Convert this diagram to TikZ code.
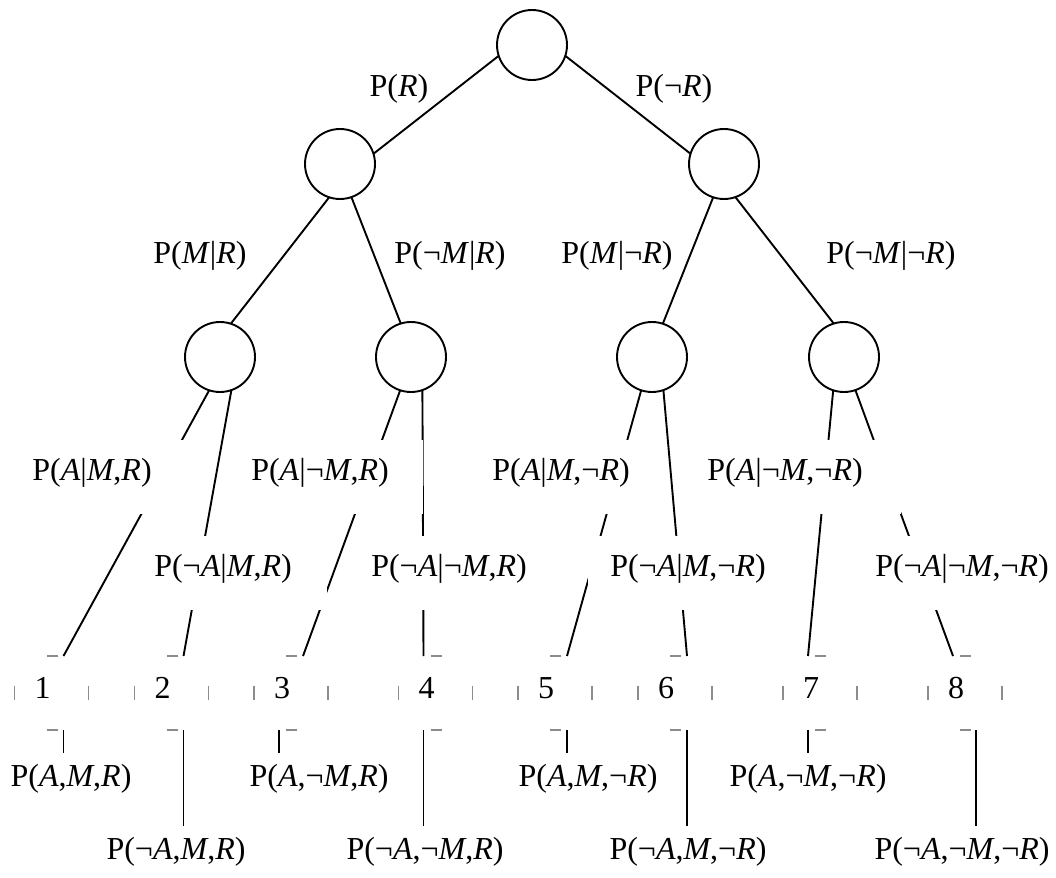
\documentclass[tikz,border=0pt]{standalone}
\usepackage{fontspec}
\setmainfont{Liberation Serif}
\begin{document}
\begin{tikzpicture}[x=1pt,y=-1pt,
  every node/.style={font=\fontsize{32}{38}\selectfont},
  chance/.style={circle,draw,line width=1.9pt,minimum size=70pt,inner sep=0pt,outer sep=0pt},
  leafbox/.style={rectangle,minimum width=74pt,minimum height=74pt,inner sep=0pt,outer sep=0pt,text height=42pt,text depth=32pt},
  branch/.style={line width=1.9pt},
  frag/.style={line width=1.2pt,black!45},
  edgelab/.style={inner sep=0pt},
  condlab/.style={fill=white,inner xsep=34pt,inner ysep=0pt,outer sep=0pt,text height=40pt,text depth=34pt},
  jointlab/.style={anchor=north,inner sep=0pt,outer sep=0pt,text height=33pt,text depth=10pt}]
\useasboundingbox (0,0) rectangle (1056,877);
% chance nodes
\node[chance] (root) at (532,45) {};
\node[chance] (L) at (340,164) {};
\node[chance] (Rt) at (724,164) {};
\node[chance] (c1) at (220,357) {};
\node[chance] (c2) at (411,357) {};
\node[chance] (c3) at (652,357) {};
\node[chance] (c4) at (844,357) {};
% leaves
\node[leafbox] (l1) at (51.5,693) {\makebox[0pt]{1\kern18pt}};
\node[leafbox] (l2) at (171.5,693) {\makebox[0pt]{2\kern18pt}};
\node[leafbox] (l3) at (291,693) {\makebox[0pt]{3\kern18pt}};
\node[leafbox] (l4) at (435.5,693) {\makebox[0pt]{4\kern18pt}};
\node[leafbox] (l5) at (555,693) {\makebox[0pt]{5\kern18pt}};
\node[leafbox] (l6) at (675,693) {\makebox[0pt]{6\kern18pt}};
\node[leafbox] (l7) at (820,693) {\makebox[0pt]{7\kern18pt}};
\node[leafbox] (l8) at (965,693) {\makebox[0pt]{8\kern18pt}};
\foreach \n in {l1,l2,l3,l4,l5,l6,l7,l8}{
  \draw[frag] ([xshift=-5pt]\n.north) -- ([xshift=6pt]\n.north);
  \draw[frag] ([xshift=-5pt]\n.south) -- ([xshift=6pt]\n.south);
  \draw[frag] ([yshift=7pt]\n.west) -- ([yshift=-7pt]\n.west);
  \draw[frag] ([yshift=7pt]\n.east) -- ([yshift=-7pt]\n.east);
}
% level 1
\draw[branch] (root.198.4) -- (L.17);
\draw[branch] (root.-18.4) -- (Rt.163);
\node[edgelab] (pR) at (399,89) {P(\textit{R})};
\node[edgelab] (pnR) at (674,89) {P(¬\textit{R})};
% level 2
\draw[branch] (L.-108.4) -- (c1.72.5);
\draw[branch] (L.-71.6) -- (c2.107.5);
\draw[branch] (Rt.-108.4) -- (c3.72.5);
\draw[branch] (Rt.-71.6) -- (c4.107.5);
\node[edgelab] (m1) at (200,256) {P(\textit{M}|\textit{R})};
\node[edgelab] (m2) at (450,256) {P(¬\textit{M}|\textit{R})};
\node[edgelab] (m3) at (617,256) {P(\textit{M}|¬\textit{R})};
\node[edgelab] (m4) at (891,256) {P(¬\textit{M}|¬\textit{R})};
% level 3, left half
\draw[branch] (c2.-71.6) -- ([xshift=-12pt]l4.north);
\node[condlab] (a4) at (449,573) {P(¬\textit{A}|¬\textit{M},\textit{R})};
\draw[branch] (c2.-108.4) -- ([xshift=12pt]l3.north);
\node[condlab] (a3) at (320,477) {P(\textit{A}|¬\textit{M},\textit{R})};
\draw[branch] (c1.-71.6) -- ([xshift=12pt]l2.north);
\node[condlab,inner xsep=35pt] (a2) at (223,573) {P(¬\textit{A}|\textit{M},\textit{R})};
\draw[branch] (c1.-108.4) -- ([xshift=12pt]l1.north);
\node[condlab] (a1) at (92,477) {P(\textit{A}|\textit{M},\textit{R})};
% level 3, right half
\draw[branch] (c4.-108.4) -- ([xshift=-12pt]l7.north);
\draw[branch] (c4.-71.6) -- ([xshift=-12pt]l8.north);
\node[condlab,inner xsep=38pt] (a7) at (785,477) {P(\textit{A}|¬\textit{M},¬\textit{R})};
\node[condlab] (a8) at (962,573) {P(¬\textit{A}|¬\textit{M},¬\textit{R})};
\draw[branch] (c3.-71.6) -- ([xshift=12pt]l6.north);
\draw[branch] (c3.-108.4) -- ([xshift=12pt]l5.north);
\node[condlab,inner xsep=22pt] (a6) at (688,573) {P(¬\textit{A}|\textit{M},¬\textit{R})};
\node[condlab] (a5) at (561,477) {P(\textit{A}|\textit{M},¬\textit{R})};
% joint probabilities
\node[jointlab] (b1) at (71,753) {P(\textit{A},\textit{M},\textit{R})};
\node[jointlab] (b2) at (176,826) {P(¬\textit{A},\textit{M},\textit{R})};
\node[jointlab] (b3) at (319,753) {P(\textit{A},¬\textit{M},\textit{R})};
\node[jointlab] (b4) at (425,826) {P(¬\textit{A},¬\textit{M},\textit{R})};
\node[jointlab] (b5) at (588,753) {P(\textit{A},\textit{M},¬\textit{R})};
\node[jointlab] (b6) at (688,826) {P(¬\textit{A},\textit{M},¬\textit{R})};
\node[jointlab] (b7) at (808,753) {P(\textit{A},¬\textit{M},¬\textit{R})};
\node[jointlab] (b8) at (962,826) {P(¬\textit{A},¬\textit{M},¬\textit{R})};
\coordinate (t1) at ([xshift=12pt]l1.south);
\coordinate (t2) at ([xshift=12pt]l2.south);
\coordinate (t3) at ([xshift=-12pt]l3.south);
\coordinate (t4) at ([xshift=-12pt]l4.south);
\coordinate (t5) at ([xshift=12pt]l5.south);
\coordinate (t6) at ([xshift=12pt]l6.south);
\coordinate (t7) at ([xshift=-12pt]l7.south);
\coordinate (t8) at ([xshift=11pt]l8.south);
\draw[branch] (t1) -- (t1 |- b1.north);
\draw[branch] (t2) -- (t2 |- b2.north);
\draw[branch] (t3) -- (t3 |- b3.north);
\draw[branch] (t4) -- (t4 |- b4.north);
\draw[branch] (t5) -- (t5 |- b5.north);
\draw[branch] (t6) -- (t6 |- b6.north);
\draw[branch] (t7) -- (t7 |- b7.north);
\draw[branch] (t8) -- (t8 |- b8.north);
\end{tikzpicture}
\end{document}
